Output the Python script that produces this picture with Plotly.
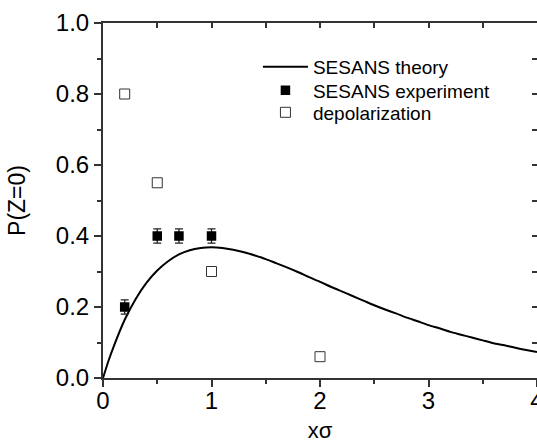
import plotly.graph_objects as go

# SESANS theory curve, P(Z=0) versus x*sigma
theory_x = [0.0, 0.05, 0.1, 0.2, 0.3, 0.4, 0.5, 0.6, 0.7, 0.8, 0.9, 1.0,
            1.1, 1.2, 1.3, 1.4, 1.5, 1.6, 1.7, 1.8, 1.9, 2.0,
            2.1, 2.2, 2.3, 2.4, 2.5, 2.6, 2.7, 2.8, 2.9, 3.0,
            3.1, 3.2, 3.3, 3.4, 3.5, 3.6, 3.7, 3.8, 3.9, 4.0]
theory_y = [0.0, 0.048, 0.090, 0.164, 0.222, 0.268, 0.303, 0.329, 0.348, 0.360, 0.366, 0.368,
            0.366, 0.361, 0.354, 0.345, 0.335, 0.323, 0.311, 0.298, 0.284, 0.271,
            0.257, 0.244, 0.231, 0.218, 0.205, 0.193, 0.182, 0.170, 0.160, 0.149,
            0.140, 0.130, 0.122, 0.114, 0.106, 0.098, 0.092, 0.085, 0.079, 0.073]

# SESANS experiment points with error bars
exp_x = [0.2, 0.5, 0.7, 1.0]
exp_y = [0.20, 0.40, 0.40, 0.40]
exp_err = [0.02, 0.02, 0.02, 0.02]

# depolarization points
dep_x = [0.2, 0.5, 1.0, 2.0]
dep_y = [0.80, 0.55, 0.30, 0.06]

FONT = "Liberation Sans, Arial, sans-serif"

fig = go.Figure()
fig.add_trace(go.Scatter(
    x=theory_x, y=theory_y, mode="lines", name="SESANS theory",
    line=dict(color="black", width=2, shape="spline", smoothing=0.6),
    legend="legend",
))
fig.add_trace(go.Scatter(
    x=exp_x, y=exp_y, mode="markers", name="SESANS experiment",
    marker=dict(symbol="square", size=9.5, color="black",
                line=dict(width=0)),
    error_y=dict(type="data", array=exp_err, visible=True,
                 color="#222", thickness=1.3, width=4),
    legend="legend2",
))
fig.add_trace(go.Scatter(
    x=dep_x, y=dep_y, mode="markers", name="depolarization",
    marker=dict(symbol="square-open", size=10, color="#333",
                line=dict(width=1)),
    legend="legend3",
))

axis_common = dict(showgrid=False, zeroline=False, showline=True,
                   linecolor="#333", linewidth=2, tickcolor="#333",
                   tickwidth=1.5, automargin=False)

# one legend per entry so the rows sit tightly stacked
legend_common = dict(x=0.357, xanchor="left", yanchor="middle",
                     bgcolor="rgba(0,0,0,0)", font=dict(size=19, family=FONT),
                     itemwidth=45)

fig.update_layout(
    width=537, height=443,
    margin=dict(l=103, r=0, t=23, b=65),
    paper_bgcolor="white", plot_bgcolor="white",
    font=dict(family=FONT, color="black"),
    showlegend=True,
    legend=dict(y=0.876, **legend_common),
    legend2=dict(y=0.810, **legend_common),
    legend3=dict(y=0.748, **legend_common),
    xaxis=dict(range=[0, 4], tickvals=[0, 1, 2, 3, 4], ticks="outside",
               ticklen=7, tickfont=dict(size=24), ticklabeloverflow="allow",
               ticklabelstandoff=-7,
               minor=dict(ticks="outside", dtick=0.5, ticklen=4,
                          tickcolor="#333", tickwidth=1.5),
               title=dict(text="xσ", font=dict(size=22), standoff=22),
               **axis_common),
    yaxis=dict(range=[0, 1.0], dtick=0.2, tickformat=".1f", ticks="outside",
               ticklen=7, tickfont=dict(size=24), ticklabeloverflow="allow",
               minor=dict(ticks="outside", dtick=0.1, ticklen=4,
                          tickcolor="#333", tickwidth=1.5),
               title=dict(text="P(Z=0)", font=dict(size=23), standoff=24),
               **axis_common),
    xaxis2=dict(range=[0, 4], overlaying="x", side="top", dtick=0.5,
                ticks="inside", ticklen=5, showticklabels=False,
                **axis_common),
    yaxis2=dict(range=[0, 1.0], overlaying="y", side="right", dtick=0.1,
                ticks="inside", ticklen=5, showticklabels=False,
                **axis_common),
)
# invisible trace anchoring the mirrored frame axes
fig.add_trace(go.Scatter(x=[None], y=[None], xaxis="x2", yaxis="y2",
                         showlegend=False, hoverinfo="skip"))

fig.write_html("out.html")
